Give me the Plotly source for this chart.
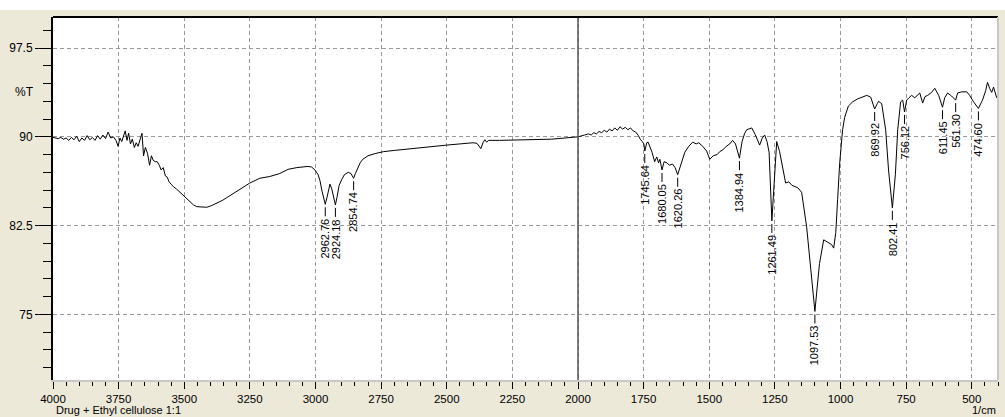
import plotly.graph_objects as go

# ---- spectrum data (wavenumber 1/cm, %T) ----
wavenumber = [
    4000, 3990, 3980, 3970, 3960, 3950, 3940, 3930, 3920, 3910, 3900, 3890, 3880, 3870,
    3860, 3850, 3840, 3830, 3820, 3810, 3800, 3790, 3780, 3770, 3760, 3752, 3745, 3738,
    3730, 3725, 3718, 3712, 3705, 3698, 3690, 3683, 3676, 3668, 3661, 3655, 3648, 3640,
    3632, 3625, 3618, 3610, 3603, 3595, 3588, 3580, 3572, 3565, 3558, 3550, 3542, 3530,
    3516, 3500, 3490, 3478, 3465, 3452, 3435, 3414, 3395, 3375, 3353, 3335, 3315, 3280,
    3250, 3212, 3174, 3136, 3105, 3071, 3040, 3029, 3015, 3002, 2990, 2983, 2975, 2968,
    2962.76, 2956, 2950, 2945, 2938, 2930, 2924.18, 2918, 2910, 2900, 2890, 2875, 2865,
    2860, 2854.74, 2848, 2840, 2830, 2820, 2800, 2770, 2740, 2700, 2680, 2640, 2600,
    2550, 2500, 2450, 2400, 2385, 2378, 2370, 2362, 2355, 2348, 2340, 2300, 2250, 2200,
    2150, 2100, 2050, 2000, 1975, 1960, 1950, 1940, 1930, 1920, 1910, 1900, 1890, 1880,
    1870, 1860, 1850, 1840, 1830, 1820, 1810, 1800, 1790, 1780, 1770, 1763, 1755, 1749,
    1745.64, 1738, 1733, 1727, 1718, 1708, 1700, 1693, 1688, 1680.05, 1672, 1661, 1652,
    1640, 1630, 1620.26, 1610, 1593, 1578, 1563, 1550, 1540, 1525, 1510, 1498, 1485,
    1470, 1460, 1448, 1435, 1422, 1411, 1400, 1384.94, 1375, 1365, 1357, 1338, 1325,
    1308, 1298, 1289, 1280, 1272, 1261.49, 1255, 1243, 1232, 1220, 1209, 1197, 1185,
    1174, 1163, 1155, 1148, 1129, 1110, 1097.53, 1091, 1080, 1064, 1053, 1043, 1034,
    1026, 1018, 1011, 1003, 992, 984, 970, 954, 935, 916, 900, 885, 869.92, 860, 855,
    843, 828, 817, 802.41, 791, 782, 771, 763, 756.12, 748, 739, 729, 717, 708, 698,
    687, 678, 668, 653, 641, 626, 611.45, 603, 592, 577, 561.30, 554, 538, 519, 508,
    493, 474.60, 459, 447, 440, 432, 424, 417, 410, 405, 400,
]
transmittance = [
    89.95, 89.90, 89.85, 89.95, 89.80, 89.90, 89.70, 89.95, 89.75, 90.05, 89.60, 89.90,
    89.70, 90.10, 89.75, 89.95, 89.70, 90.10, 89.80, 90.15, 89.85, 90.40, 89.90, 90.00,
    89.70, 89.20, 89.90, 89.60, 90.30, 90.50, 89.70, 90.30, 89.40, 89.80, 89.10, 89.50,
    89.20, 89.80, 90.30, 88.40, 89.10, 88.60, 87.60, 88.40, 88.00, 87.90, 87.90, 87.60,
    87.20, 87.40, 86.70, 86.60, 86.20, 86.00, 85.80, 85.60, 85.30, 85.00, 84.75, 84.50,
    84.25, 84.10, 84.05, 84.05, 84.20, 84.40, 84.65, 84.90, 85.20, 85.65, 86.10, 86.50,
    86.65, 86.90, 87.25, 87.40, 87.50, 87.50, 87.45, 87.20, 86.80, 86.30, 85.40, 84.60,
    84.30, 84.90, 85.70, 86.00, 85.60, 84.80, 84.25, 84.90, 85.90, 86.40, 86.80, 87.00,
    86.90, 86.70, 86.50, 86.90, 87.30, 87.80, 88.10, 88.40, 88.60, 88.75, 88.85, 88.90,
    89.00, 89.10, 89.20, 89.30, 89.40, 89.50, 89.45, 89.20, 89.00, 89.50, 89.75, 89.55,
    89.70, 89.70, 89.72, 89.75, 89.78, 89.80, 89.90, 90.00, 90.15, 90.25, 90.15, 90.35,
    90.25, 90.45, 90.35, 90.55, 90.40, 90.65, 90.50, 90.75, 90.55, 90.85, 90.65, 90.80,
    90.60, 90.75, 90.50, 90.40, 90.10, 89.80, 89.60, 89.40, 88.80, 89.50, 89.55, 89.25,
    88.70, 87.90, 88.30, 87.80, 88.10, 87.20, 87.90, 87.80, 87.60, 87.70, 87.40, 86.80,
    87.60, 88.70, 89.20, 89.55, 89.40, 89.50, 89.20, 88.80, 88.10, 88.40, 88.50, 88.75,
    88.90, 89.20, 89.40, 89.70, 89.40, 88.20, 89.60, 90.30, 90.60, 90.75, 90.20, 89.30,
    89.90, 90.15, 89.60, 88.70, 82.90, 85.50, 89.60, 88.75, 87.50, 86.10, 86.20, 85.90,
    85.80, 85.70, 85.50, 85.30, 82.40, 77.90, 75.25, 76.80, 79.30, 81.30, 81.15, 81.00,
    80.90, 80.60, 81.90, 84.70, 87.80, 90.60, 91.65, 92.60, 92.95, 93.20, 93.35, 93.50,
    93.35, 92.35, 92.80, 93.00, 92.80, 90.60, 87.20, 84.00, 86.80, 90.60, 92.95, 93.10,
    92.10, 93.10, 93.30, 93.50, 93.30, 93.50, 93.70, 92.85, 93.40, 93.50, 93.75, 94.10,
    93.50, 92.50, 93.30, 93.70, 93.45, 93.10, 93.70, 93.80, 93.80, 93.50, 92.95, 92.40,
    93.10, 93.90, 94.60, 94.10, 93.75, 94.20, 93.60, 93.30, 93.20,
]

# ---- labelled peaks ----
peak_wn = [2962.76, 2924.18, 2854.74, 1745.64, 1680.05, 1620.26, 1384.94, 1261.49,
           1097.53, 869.92, 802.41, 756.12, 611.45, 561.30, 474.60]
peak_T = [84.30, 84.25, 86.50, 88.80, 87.20, 86.80, 88.20, 82.90,
          75.25, 92.35, 84.00, 92.10, 92.50, 93.10, 92.40]

# ---- axes ----
x_tickvals = [4000, 3750, 3500, 3250, 3000, 2750, 2500, 2250, 2000, 1750, 1500, 1250, 1000, 750, 500]
y_tickvals = [75, 82.5, 90, 97.5]
y_ticktext = ["75", "82.5", "90", "97.5"]

BEIGE = "#ECE9D8"
GRID = "#9a9a9a"
FONT = "Liberation Sans, Arial, sans-serif"

fig = go.Figure()
fig.add_trace(go.Scatter(x=wavenumber, y=transmittance, mode="lines",
                         line=dict(color="#000000", width=1), hoverinfo="skip"))

annotations = []
shapes = [
    # white strip at the very top of the window
    dict(type="rect", xref="paper", yref="paper", x0=-0.1, x1=1.1, y0=1 + 7 / 363, y1=1.2,
         fillcolor="#ffffff", line=dict(width=0), layer="below"),
    # solid marker line at 2000 1/cm
    dict(type="line", xref="x", yref="paper", x0=2000, x1=2000, y0=0, y1=1,
         line=dict(color="#555555", width=1.5)),
    # top border
    dict(type="line", xref="paper", yref="paper", x0=0, x1=1, y0=1, y1=1,
         line=dict(color="#000000", width=2)),
    # right border
    dict(type="line", xref="paper", yref="paper", x0=1, x1=1, y0=0, y1=1,
         line=dict(color="#c8c8c8", width=2)),
]

for wn, t in zip(peak_wn, peak_T):
    shapes.append(dict(type="line", xref="x", yref="y", ysizemode="pixel", yanchor=t,
                       x0=wn, x1=wn, y0=-3, y1=-12, line=dict(color="#000000", width=1)))
    annotations.append(dict(
        x=wn, y=t, xref="x", yref="y", text=f"{wn:.2f}", textangle=-90,
        showarrow=False, xanchor="center", yanchor="top", yshift=-12,
        font=dict(family=FONT, size=11, color="#000000"),
    ))

annotations += [
    dict(x=-0.018, y=93.75, xref="paper", yref="y", text="%T", showarrow=False,
         xanchor="right", yanchor="middle", font=dict(family=FONT, size=12, color="#000000")),
    dict(x=0.002, y=-0.1016, xref="paper", yref="paper", text="Drug + Ethyl cellulose 1:1",
         showarrow=False, xanchor="left", yanchor="bottom", borderpad=0,
         font=dict(family=FONT, size=11, color="#000000")),
    dict(x=0.999, y=-0.1016, xref="paper", yref="paper", text="1/cm",
         showarrow=False, xanchor="right", yanchor="bottom", borderpad=0,
         font=dict(family=FONT, size=11, color="#000000")),
]

fig.update_layout(
    width=1005, height=417,
    margin=dict(l=53, r=7, t=17, b=37),
    paper_bgcolor=BEIGE, plot_bgcolor="#ffffff",
    showlegend=False,
    font=dict(family=FONT, size=12, color="#000000"),
    annotations=annotations, shapes=shapes,
    xaxis=dict(
        range=[4000, 400], tickvals=x_tickvals, ticks="outside", ticklen=7, tickwidth=1,
        tickcolor="#000000", showline=True, linecolor="#c8c8c8", linewidth=2,
        showgrid=True, gridcolor=GRID, griddash="4px,3px", gridwidth=1, zeroline=False,
        tickfont=dict(family=FONT, size=11.5, color="#000000"),
        minor=dict(dtick=50, tick0=0, ticks="outside", ticklen=4, tickcolor="#000000", showgrid=False),
    ),
    yaxis=dict(
        range=[69.46, 100.12], tickvals=y_tickvals, ticktext=y_ticktext, ticks="outside",
        ticklen=16, tickwidth=1, tickcolor="#000000", showline=True, linecolor="#000000",
        linewidth=2, showgrid=True, gridcolor=GRID, griddash="4px,3px", gridwidth=1,
        zeroline=False, tickfont=dict(family=FONT, size=12, color="#000000"),
        minor=dict(dtick=1.5, tick0=0, ticks="outside", ticklen=8, tickcolor="#000000", showgrid=False),
    ),
)

fig.write_html("out.html", config={"displayModeBar": False},
               post_script="document.body.style.margin='0';")
